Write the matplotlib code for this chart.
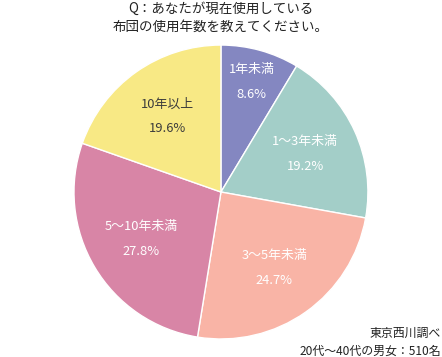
import matplotlib
matplotlib.use("Agg")
import matplotlib.pyplot as plt
import numpy as np

plt.rcParams['font.family'] = ['Noto Sans CJK JP', 'DejaVu Sans']

categories = ["1年未満", "1～3年未満", "3～5年未満", "5～10年未満", "10年以上"]
values = [8.6, 19.2, 24.7, 27.8, 19.6]
colors = ["#8487C1", "#A3CEC8", "#F9B4A6", "#D885A6", "#F8E985"]
text_colors = ["white", "white", "white", "white", "#3C3C3C"]
title_lines = ["Q：あなたが現在使用している", "布団の使用年数を教えてください。"]
source_lines = ["東京西川調べ", "20代～40代の男女：510名"]

fig = plt.figure(figsize=(4.42, 3.57), dpi=100)
ax = fig.add_axes([0.1674, 0.0504, 0.665, 0.8235])
wedges, _ = ax.pie(values, colors=colors, startangle=90, counterclock=False,
                   wedgeprops=dict(edgecolor="white", linewidth=1.0))
ax.set_xlim(-1, 1)
ax.set_ylim(-1, 1)
ax.set_aspect('equal')
ax.axis('off')

for w, cat, v, tc in zip(wedges, categories, values, text_colors):
    ang = np.deg2rad((w.theta1 + w.theta2) / 2)
    r = 0.78 if v < 15 else 0.63
    x, y = r * np.cos(ang), r * np.sin(ang)
    ax.annotate(cat, (x, y), xytext=(0, 9), textcoords='offset points',
                ha='center', va='center', color=tc, fontsize=9.3)
    ax.annotate(f"{v:.1f}%", (x, y), xytext=(0, -9), textcoords='offset points',
                ha='center', va='center', color=tc, fontsize=9.3)

fig.text(0.5, 0.976, title_lines[0], ha='center', va='center', fontsize=9.7, color='#222222')
fig.text(0.5, 0.926, title_lines[1], ha='center', va='center', fontsize=9.7, color='#222222')
fig.text(0.997, 0.067, source_lines[0], ha='right', va='center', fontsize=8.6, color='#222222')
fig.text(0.997, 0.017, source_lines[1], ha='right', va='center', fontsize=8.6, color='#222222')

fig.savefig("out.png", dpi=100)
